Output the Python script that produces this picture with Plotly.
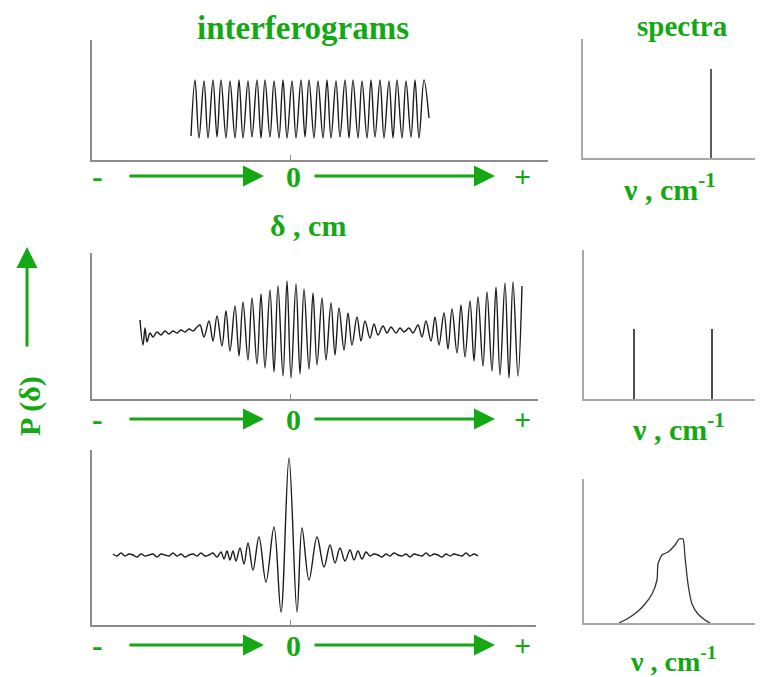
import plotly.graph_objects as go

# ---------------- data ----------------
# top interferogram: single frequency (extrema positions and values)
top_delta = [-99, -95, -91, -86, -82, -77, -73, -69, -64, -60,
             -55, -51, -47, -42, -38, -33, -29, -25, -20, -16,
             -11, -7, -3, 2, 6, 11, 15, 19, 24, 28,
             33, 37, 41, 46, 50, 55, 59, 63, 68, 72,
             77, 81, 85, 90, 94, 99, 103, 107, 112, 116,
             121, 125, 129, 134, 139]
top_signal = [-27, 29, -29, 28, -29, 29, -28, 29, -29, 28,
              -29, 29, -29, 28, -28, 29, -29, 29, -28, 28,
              -29, 29, -29, 28, -29, 29, -28, 29, -29, 28,
              -29, 29, -29, 28, -28, 29, -29, 29, -29, 28,
              -29, 29, -28, 29, -29, 28, -29, 29, -29, 28,
              -28, 29, -29, 29, -9]

# middle interferogram: two frequencies (beats)
mid_delta_noise = [-150, -147, -145, -143, -140, -137, -133, -129, -125, -121,
                   -117, -113, -109, -105, -101, -97, -93]
mid_signal_noise = [10, -15, 2, -12, -3, -7, -2, -5, -1, -4,
                    -1, -3, 0, -2, 1, -1, 3]
mid_delta_osc = [-90, -86, -81, -77, -73, -68, -64, -60, -55, -51,
                 -47, -42, -38, -33, -29, -25, -20, -16, -12, -7,
                 -3, 1, 6, 10, 14, 19, 23, 27, 32, 36,
                 41, 45, 49, 54, 58, 62, 67, 71, 75, 80,
                 84, 88, 93, 97, 101, 106, 110, 114, 119, 123,
                 128, 132, 136, 141, 145, 149, 154, 158, 162, 167,
                 171, 175, 180, 184, 188, 193, 197, 202, 206, 210,
                 215, 219, 223, 228, 232]
mid_signal_osc = [5, -7, 9, -11, 14, -16, 19, -21, 24, -26,
                  28, -30, 32, -34, 36, -38, 40, -42, 44, -46,
                  49, -48, 46, -44, 41, -39, 37, -35, 32, -30,
                  27, -25, 22, -20, 17, -15, 13, -11, 9, -8,
                  6, -5, 4, -3, 3, -3, 2, -2, 2, -3,
                  5, -7, 9, -11, 13, -15, 17, -19, 21, -23,
                  25, -27, 29, -31, 33, -36, 38, -41, 43, -45,
                  47, -48, 48, -46, 44]

# bottom interferogram: broad band (centre burst)
bot_delta_left = [-177, -173, -169, -165, -161, -157, -153, -149, -145, -141,
                  -137, -133, -129, -125, -121, -117, -113, -109, -105, -101,
                  -97, -93, -89, -85, -81, -77, -73]
bot_signal_left = [1, -1, 2, -1, 1, 0, -2, 1, -1, 0,
                   1, -2, 1, 0, -1, 2, -1, 1, -2, 0,
                   1, -1, 2, -1, 0, 2, -2]
bot_delta_burst = [-69, -66, -63, -60, -57, -54, -50, -46, -42, -37,
                   -31, -24, -16, -9, -1, 7, 12, 19, 27, 34,
                   40, 45, 50, 55, 60, 64, 68, 72, 76]
bot_signal_burst = [3, -4, 4, -5, 4, -6, 7, -9, 12, -15,
                    18, -27, 28, -57, 97, -57, 27, -25, 18, -12,
                    10, -8, 7, -6, 5, -5, 4, -4, 3]
bot_delta_right = [80, 84, 88, 92, 96, 100, 104, 108, 112, 116,
                   120, 124, 128, 132, 136, 140, 144, 148, 152, 156,
                   160, 164, 168, 172, 176, 180, 184, 188]
bot_signal_right = [-1, 1, 0, -2, 1, -1, 2, 0, -1, 1,
                    -2, 1, 0, -1, 2, -1, 1, 0, -2, 1,
                    -1, 1, 0, -1, 2, -1, 1, -1]

# spectra
spec_top_nu = [128]
spec_top_int = [89]
spec_mid_nu = [50, 128]
spec_mid_int = [70, 70]
spec_bot_nu = [35, 43, 53, 61, 68, 73, 74, 78, 84, 91, 95, 99, 101, 104, 108, 114, 121, 126]
spec_bot_int = [0, 4, 11, 19, 29, 43, 59, 68, 71, 78, 84, 84, 66, 39, 19, 9, 3, 0]

# texts
title_left = "interferograms"
title_right = "spectra"
delta_label = "δ , cm"
nu_label = "ν , cm<sup>-1</sup>"
p_label = "P (δ)"
row_ticks = ["-", "0", "+"]

# ---------------- layout helpers ----------------
PAGE_OFF = 8           # default body margin of the html page
W, H = 763 - PAGE_OFF, 677 - PAGE_OFF
GREEN = "#14a814"
SERIF = "Liberation Serif"
ZERO = 290  # pixel column of delta = 0


def fx(p):
    return (p - PAGE_OFF) / W


def fy(p):
    return 1 - (p - PAGE_OFF) / H


fig = go.Figure()

sig_line = dict(color="#1c1c1c", width=1.4, shape="spline", smoothing=1.0)

fig.add_trace(go.Scatter(x=top_delta, y=top_signal, mode="lines", line=sig_line,
                         xaxis="x", yaxis="y", hoverinfo="skip"))
fig.add_trace(go.Scatter(x=mid_delta_noise + mid_delta_osc,
                         y=mid_signal_noise + mid_signal_osc, mode="lines", line=sig_line,
                         xaxis="x2", yaxis="y2", hoverinfo="skip"))
fig.add_trace(go.Scatter(x=bot_delta_left + bot_delta_burst + bot_delta_right,
                         y=bot_signal_left + bot_signal_burst + bot_signal_right,
                         mode="lines", line=sig_line,
                         xaxis="x3", yaxis="y3", hoverinfo="skip"))


def stick(nus, ints):
    xs, ys = [], []
    for n, v in zip(nus, ints):
        xs += [n, n, None]
        ys += [0, v, None]
    return xs, ys


sx, sy = stick(spec_top_nu, spec_top_int)
fig.add_trace(go.Scatter(x=sx, y=sy, mode="lines", line=dict(color="#5e5e5e", width=2),
                         xaxis="x4", yaxis="y4", hoverinfo="skip"))
sx, sy = stick(spec_mid_nu, spec_mid_int)
fig.add_trace(go.Scatter(x=sx, y=sy, mode="lines", line=dict(color="#4e4e4e", width=2),
                         xaxis="x5", yaxis="y5", hoverinfo="skip"))
fig.add_trace(go.Scatter(x=spec_bot_nu, y=spec_bot_int, mode="lines",
                         line=dict(color="#333333", width=1.3, shape="spline", smoothing=0.6),
                         xaxis="x6", yaxis="y6", hoverinfo="skip"))

layout = dict(width=W, height=H, margin=dict(l=0, r=0, t=0, b=0, pad=0),
              paper_bgcolor="white", plot_bgcolor="white", showlegend=False)

# interferogram panels: (x0, x1, ytop, ybase, yrange)
ipanels = [(92, 548, 40, 160, [-51, 69]),
           (92, 538, 253, 399, [-69, 77]),
           (92, 536, 450, 625, [-70, 105])]
for i, (x0, x1, yt, yb, yr) in enumerate(ipanels, start=1):
    sfx = "" if i == 1 else str(i)
    layout["xaxis" + sfx] = dict(domain=[fx(x0), fx(x1)], range=[x0 - ZERO, x1 - ZERO],
                                 anchor="y" + sfx, showline=True, linecolor="#8c8c8c", linewidth=1.5,
                                 showgrid=False, zeroline=False, tickvals=[0], ticks="inside",
                                 ticklen=5, tickcolor="#8c8c8c", tickwidth=1, showticklabels=False)
    layout["yaxis" + sfx] = dict(domain=[fy(yb), fy(yt)], range=yr, anchor="x" + sfx,
                                 showline=True, linecolor="#8c8c8c", linewidth=1.5,
                                 showgrid=False, zeroline=False, ticks="", showticklabels=False)

# spectra panels
spanels = [(583, 763, 39, 158, [0, 119]),
           (584, 763, 250, 399, [0, 149]),
           (584, 763, 479, 623, [0, 144])]
for j, (x0, x1, yt, yb, yr) in enumerate(spanels, start=4):
    sfx = str(j)
    layout["xaxis" + sfx] = dict(domain=[fx(x0), min(1.0, fx(x1))], range=[0, x1 - x0],
                                 anchor="y" + sfx, showline=True, linecolor="#a8a8a8", linewidth=1.5,
                                 showgrid=False, zeroline=False, ticks="", showticklabels=False)
    layout["yaxis" + sfx] = dict(domain=[fy(yb), fy(yt)], range=yr, anchor="x" + sfx,
                                 showline=True, linecolor="#a8a8a8", linewidth=1.5,
                                 showgrid=False, zeroline=False, ticks="", showticklabels=False)

fig.update_layout(**layout)


def label(text, x, y, size, angle=0):
    fig.add_annotation(text="<b>" + text + "</b>", x=fx(x), y=fy(y), xref="paper", yref="paper",
                       xanchor="center", yanchor="middle", borderpad=0,
                       showarrow=False, textangle=angle,
                       font=dict(family=SERIF, size=size, color=GREEN))


label(title_left, 303, 28, 33)
label(title_right, 682, 26, 29)
label(delta_label, 308, 225, 30)
label(nu_label, 669, 187, 30)
label(nu_label, 678, 427, 30)
label(nu_label, 673, 659, 28)
label(p_label, 30, 406, 30, angle=-90)

rows = [176, 419, 645]
for ry in rows:
    label(row_ticks[0], 97, ry, 32)
    label(row_ticks[1], 293, ry, 30)
    label(row_ticks[2], 522, ry, 30)
    for tail, tip in [(128, 264), (313, 495)]:
        fig.add_annotation(x=tip - ZERO, y=fy(ry), xref="x2", yref="paper",
                           ax=tail - ZERO, ay=0, axref="x2", ayref="pixel",
                           text="", showarrow=True, arrowhead=2, arrowsize=1.4,
                           arrowwidth=3, arrowcolor=GREEN)

# vertical P(delta) arrow
fig.add_annotation(x=fx(27), y=fy(247), xref="paper", yref="paper",
                   ax=0, ay=101, text="", showarrow=True, arrowhead=2, arrowsize=1.4,
                   arrowwidth=3, arrowcolor=GREEN)

fig.write_html("out.html")
